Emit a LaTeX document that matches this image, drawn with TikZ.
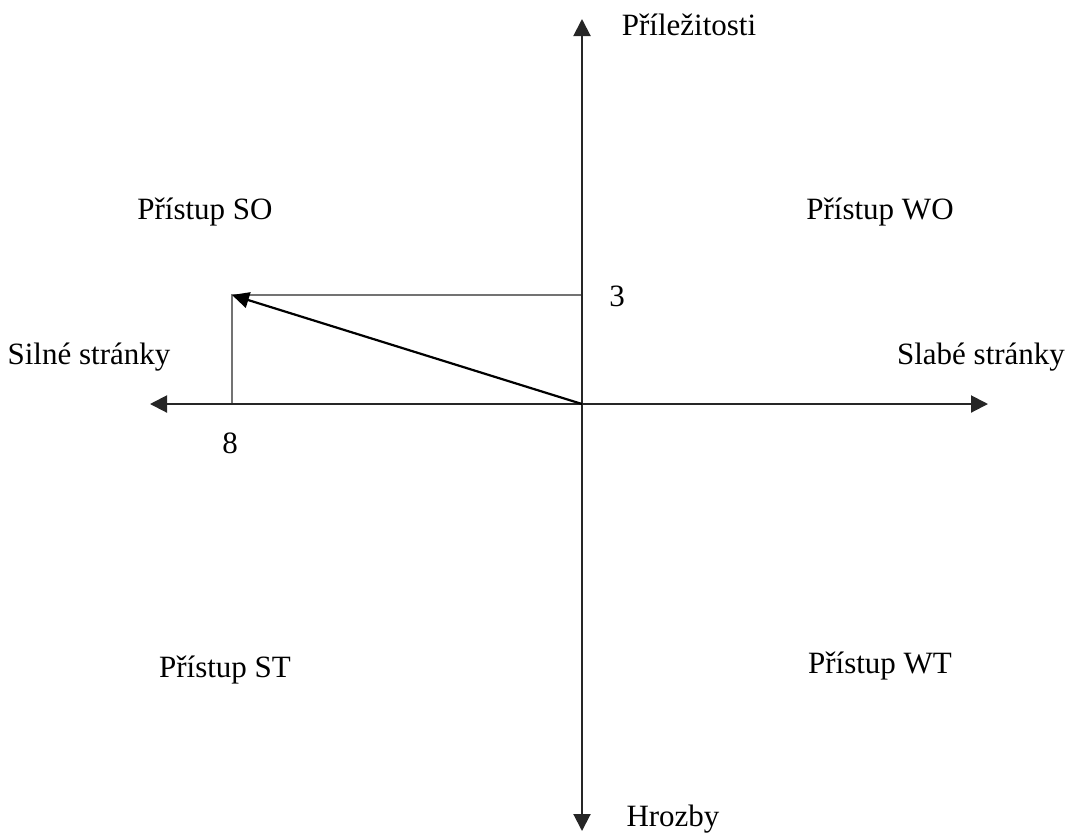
\documentclass[tikz,border=0pt]{standalone}
\usepackage{fontspec}
\setmainfont{Liberation Serif}
\usepackage{tikz}
\usetikzlibrary{arrows.meta}

\begin{document}
\begin{tikzpicture}[
  x=0.5pt, y=-0.5pt,
  font=\fontsize{15.5}{18}\selectfont,
  axis/.style={line width=1pt, draw=black!85, -{Triangle[length=8.5pt, width=8.5pt]}},
  helper/.style={line width=0.6pt, draw=black!55},
  vec/.style={line width=1.1pt, -{Triangle[length=8.5pt, width=8pt]}},
  lbl/.style={inner sep=1pt}
]
\useasboundingbox (0,0) rectangle (1071,832);
% Osy
\coordinate (O)  at (582,404);
\coordinate (Ve) at (988,404);
\coordinate (Za) at (150,404);
\coordinate (Se) at (582,19);
\coordinate (Ji) at (582,831);
% Bod strategie a jeho průměty na osy
\coordinate (P)  at (232,295);
\coordinate (Px) at (232,404);
\coordinate (Py) at (582,295);

\draw[helper] (Px) -- (P) -- (Py);
\draw[axis] (O) -- (Ve);
\draw[axis] (O) -- (Za);
\draw[axis] (O) -- (Se);
\draw[axis] (O) -- (Ji);
\draw[vec] (O) -- (P);

% Popisky os
\node[lbl] (prilez) at (689,25)  {Příležitosti};
\node[lbl] (hrozby) at (673,819) {Hrozby};
\node[lbl] (silne)  at (89,357)  {Silné stránky};
\node[lbl] (slabe)  at (981,357) {Slabé stránky};
\node[lbl] (tri)    at (617,296) {3};
\node[lbl] (osm)    at (230,443) {8};

% Kvadranty
\node[lbl] (so) at (205,212) {Přístup SO};
\node[lbl] (wo) at (880,212) {Přístup WO};
\node[lbl] (st) at (225,670) {Přístup ST};
\node[lbl] (wt) at (880,666) {Přístup WT};
\end{tikzpicture}
\end{document}
